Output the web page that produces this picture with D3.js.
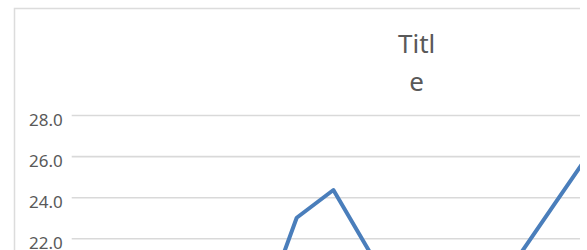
<!DOCTYPE html>
<html>
<head>
<meta charset="utf-8">
<script src="https://cdn.jsdelivr.net/npm/d3@7"></script>
<style>
  body { margin: 0; background: #fff; }
  svg { display: block; }
</style>
</head>
<body>
<div id="chart"></div>
<script>

const WIDTH = 587;
const HEIGHT = 250;

// Data (only part of the series is visible in the crop).
var categories = ["1","2","3","4","5","6","7","8","9","10","11","12","13","14","15","16"];
var values = [19.5, 20.1, 19.6, 20.8, 19.2, 18.1, 23.0, 24.35, 21.3, 20.5, 19.8, 20.6, 21.0, 23.6, 26.2, 27.0];
var yTicks = [22, 24, 26, 28];
var titleLines = ["Titl", "e"];

// Frame of the (cropped) chart.
var FRAME = {'left': 14, 'top': 8, 'right': 580};
var PLOT = {'left': 71.7, 'right': 580, 'top': 115, 'bottom': 238.3};

var canvas = d3.select("#chart").append("svg")
          .attr("width", WIDTH)
          .attr("height", HEIGHT);

canvas.append("defs").append("clipPath")
      .attr("id", "clip")
      .append("rect")
      .attr("x", FRAME.left)
      .attr("y", FRAME.top)
      .attr("width", FRAME.right - FRAME.left)
      .attr("height", HEIGHT - FRAME.top);

// border
canvas.append("path")
      .attr("d", "M" + (FRAME.left + 0.5) + "," + HEIGHT + "V" + (FRAME.top + 0.5) + "H" + FRAME.right)
      .attr("fill", "none")
      .attr("stroke", "#dcdcdc")
      .attr("stroke-width", 1.5);

var x = d3.scalePoint()
          .domain(categories)
          .range([76.5, 76.5 + 36.7 * (categories.length - 1)]);

var y = d3.scaleLinear()
          .domain([22, 28])
          .range([PLOT.bottom, PLOT.top]);

var yAxis = d3.axisLeft(y)
              .tickValues(yTicks)
              .tickFormat(d3.format(".1f"))
              .tickSize(-(PLOT.right - PLOT.left))
              .tickPadding(9);

var gy = canvas.append("g")
               .attr("transform", "translate(" + PLOT.left + ",0)")
               .call(yAxis);

gy.select(".domain").remove();
gy.selectAll(".tick line")
  .attr("stroke", "#d9d9d9")
  .attr("stroke-width", 1.6);
gy.selectAll(".tick text")
  .attr("fill", "#595959")
  .attr("font-family", "'Noto Sans', sans-serif")
  .attr("font-size", "17px")
  .attr("dy", "0.62em");

// title
var title = canvas.append("text")
                  .attr("text-anchor", "middle")
                  .attr("fill", "#595959")
                  .attr("font-family", "'Noto Sans', sans-serif")
                  .attr("font-size", "26px");
title.selectAll("tspan")
     .data(titleLines)
     .enter()
     .append("tspan")
     .attr("x", 416.7)
     .attr("y", function(d, i) { return 53 + i * 38; })
     .text(function(d) { return d; });

var line = d3.line()
             .x(function(d, i) { return x(categories[i]); })
             .y(function(d) { return y(d); });

canvas.append("path")
      .datum(values)
      .attr("clip-path", "url(#clip)")
      .attr("d", line)
      .attr("fill", "none")
      .attr("stroke", "#4a7ebb")
      .attr("stroke-width", 4)
      .attr("stroke-linejoin", "round")
      .attr("stroke-linecap", "round");

</script>
</body>
</html>
